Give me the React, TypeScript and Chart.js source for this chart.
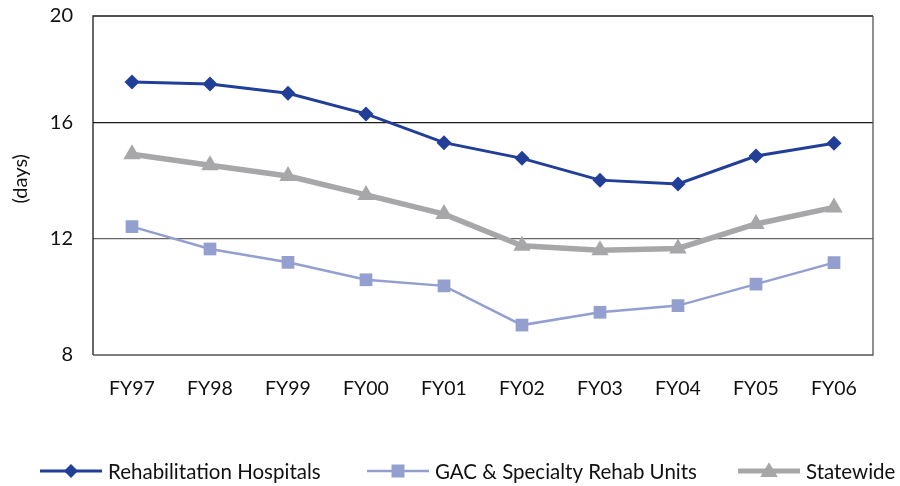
import React, { useEffect, useRef } from "react";
import { Chart, registerables } from "chart.js";

Chart.register(...registerables);

const categories = ["FY97", "FY98", "FY99", "FY00", "FY01", "FY02", "FY03", "FY04", "FY05", "FY06"];
const rehabHospitals = [17.4, 17.33, 17.01, 16.3, 15.31, 14.77, 14.02, 13.89, 14.85, 15.29];
const gacSpecialtyUnits = [12.42, 11.65, 11.19, 10.59, 10.38, 9.03, 9.47, 9.7, 10.44, 11.18];
const statewide = [14.91, 14.53, 14.16, 13.51, 12.85, 11.76, 11.61, 11.67, 12.51, 13.08];
const yTickValues = [8, 12, 16, 19.67];
const yTickLabels = ["8", "12", "16", "20"];
const yAxisTitle = "(days)";
const seriesNames = ["Rehabilitation Hospitals", "GAC & Specialty Rehab Units", "Statewide"];

const FONT = "Lato, 'Open Sans', sans-serif";
const C_REHAB = "#223F98";
const C_GAC = "#93A0CF";
const C_STATE = "#A7A7A9";

// legend layout (left x of each legend line sample)
const LEGEND_X = [40, 367, 738];
const LEGEND_LINE_W = 62;

function drawMarker(ctx: CanvasRenderingContext2D, shape: string, cx: number, cy: number, size: number) {
  ctx.beginPath();
  if (shape === "rectRot") {
    ctx.moveTo(cx, cy - size);
    ctx.lineTo(cx + size, cy);
    ctx.lineTo(cx, cy + size);
    ctx.lineTo(cx - size, cy);
  } else if (shape === "rect") {
    ctx.rect(cx - size, cy - size, size * 2, size * 2);
  } else {
    ctx.moveTo(cx, cy - size * 1.1);
    ctx.lineTo(cx + size * 1.1, cy + size * 0.75);
    ctx.lineTo(cx - size * 1.1, cy + size * 0.75);
  }
  ctx.closePath();
  ctx.fill();
}

const legendPlugin = {
  id: "customLegend",
  afterDraw(chart: any) {
    const { ctx } = chart;
    const y = chart.height - 15;
    const sizes = [7, 6.5, 8];
    ctx.save();
    chart.data.datasets.forEach((ds: any, i: number) => {
      const x0 = LEGEND_X[i];
      ctx.strokeStyle = ds.borderColor;
      ctx.fillStyle = ds.borderColor;
      ctx.lineWidth = Math.min(ds.borderWidth, 5);
      ctx.beginPath();
      ctx.moveTo(x0, y);
      ctx.lineTo(x0 + LEGEND_LINE_W, y);
      ctx.stroke();
      drawMarker(ctx, ds.pointStyle, x0 + LEGEND_LINE_W / 2, y, sizes[i]);
      ctx.fillStyle = "#111";
      ctx.font = `20.5px ${FONT}`;
      ctx.textAlign = "left";
      ctx.textBaseline = "middle";
      ctx.fillText(ds.label, x0 + LEGEND_LINE_W + 6, y + 1);
    });
    ctx.restore();
  },
};

const framePlugin = {
  id: "frame",
  beforeDatasetsDraw(chart: any) {
    const { ctx, chartArea } = chart;
    const { left, right, top, bottom } = chartArea;
    ctx.save();
    ctx.lineWidth = 1.3;
    ctx.strokeStyle = "#1a1a1a";
    ctx.beginPath();
    ctx.moveTo(left, bottom);
    ctx.lineTo(left, top);
    ctx.lineTo(right, top);
    ctx.stroke();
    ctx.strokeStyle = "#555555";
    ctx.beginPath();
    ctx.moveTo(right, top);
    ctx.lineTo(right, bottom);
    ctx.lineTo(left, bottom);
    ctx.stroke();
    ctx.restore();
  },
};

const yTitlePlugin = {
  id: "yTitle",
  afterDraw(chart: any) {
    const { ctx, chartArea } = chart;
    ctx.save();
    ctx.translate(21, chartArea.top + (chartArea.bottom - chartArea.top) * 0.48);
    ctx.rotate(-Math.PI / 2);
    ctx.font = `20px ${FONT}`;
    ctx.fillStyle = "#111";
    ctx.textAlign = "center";
    ctx.textBaseline = "middle";
    ctx.fillText(yAxisTitle, 0, 0);
    ctx.restore();
  },
};

export default function App() {
  const ref = useRef<HTMLCanvasElement | null>(null);

  useEffect(() => {
    if (!ref.current) return;
    const chart = new Chart(ref.current, {
      type: "line",
      data: {
        labels: categories,
        datasets: [
          {
            label: seriesNames[0],
            data: rehabHospitals,
            borderColor: C_REHAB,
            backgroundColor: C_REHAB,
            borderWidth: 3,
            pointStyle: "rectRot",
            pointRadius: 7.5,
            pointBorderWidth: 0,
            pointBackgroundColor: C_REHAB,
            tension: 0,
          },
          {
            label: seriesNames[1],
            data: gacSpecialtyUnits,
            borderColor: C_GAC,
            backgroundColor: C_GAC,
            borderWidth: 2.5,
            pointStyle: "rect",
            pointRadius: 9,
            pointBorderWidth: 0,
            pointBackgroundColor: C_GAC,
            tension: 0,
          },
          {
            label: seriesNames[2],
            data: statewide,
            borderColor: C_STATE,
            backgroundColor: C_STATE,
            borderWidth: 5.5,
            pointStyle: "triangle",
            pointRadius: 10,
            pointBorderWidth: 0,
            pointBackgroundColor: C_STATE,
            tension: 0,
          },
        ],
      },
      options: {
        animation: false,
        responsive: false,
        maintainAspectRatio: false,
        layout: { padding: { top: 16, right: 27, bottom: 73, left: 0 } },
        scales: {
          x: {
            offset: true,
            grid: { display: false, drawTicks: false, offset: true },
            border: { display: false },
            ticks: {
              padding: 22,
              color: "#111",
              font: { family: FONT, size: 19.5 },
              maxRotation: 0,
            },
            afterFit(scale: any) {
              scale.height = 58;
              scale.paddingLeft = 0;
              scale.paddingRight = 0;
            },
          },
          y: {
            min: 8,
            max: yTickValues[yTickValues.length - 1],
            grid: {
              drawTicks: false,
              color: (c: any) => (c.tick && c.tick.value === 16 ? "#1a1a1a" : "#666666"),
              lineWidth: (c: any) => (c.tick && (c.tick.value === 12 || c.tick.value === 16) ? 1.3 : 0),
            },
            border: { display: false },
            afterBuildTicks(scale: any) {
              scale.ticks = yTickValues.map((v) => ({ value: v }));
            },
            ticks: {
              padding: 20,
              color: "#111",
              font: { family: FONT, size: 20 },
              callback: (v: any) => {
                const i = yTickValues.indexOf(Number(v));
                return i >= 0 ? yTickLabels[i] : "";
              },
            },
            afterFit(scale: any) {
              scale.width = 93;
              scale.paddingTop = 0;
              scale.paddingBottom = 0;
            },
          },
        },
        plugins: {
          legend: { display: false },
          tooltip: { enabled: false },
          title: { display: false },
        },
      },
      plugins: [framePlugin, yTitlePlugin, legendPlugin],
    });
    return () => chart.destroy();
  }, []);

  return (
    <div style={{ position: "fixed", left: 0, top: 0, width: 900, height: 486, background: "#fff" }}>
      <canvas ref={ref} width={900} height={486} style={{ display: "block", width: 900, height: 486 }} />
    </div>
  );
}
